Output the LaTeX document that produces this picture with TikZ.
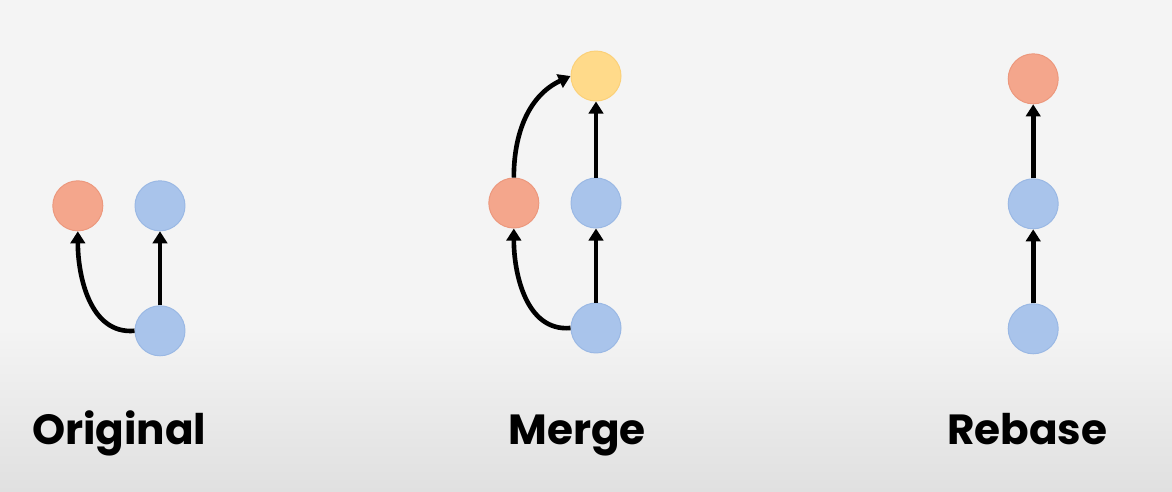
\documentclass[tikz,border=0pt]{standalone}
\usepackage{fontspec}
\setmainfont{Poppins}
\usetikzlibrary{arrows.meta,positioning}
\definecolor{CommitBlue}{HTML}{A9C4EB}
\definecolor{CommitBlueEdge}{HTML}{9AB8E4}
\definecolor{CommitOrange}{HTML}{F4A68C}
\definecolor{CommitOrangeEdge}{HTML}{EC987D}
\definecolor{CommitYellow}{HTML}{FFDA8A}
\definecolor{CommitYellowEdge}{HTML}{FBD078}
\definecolor{BackTop}{HTML}{F4F4F4}
\definecolor{BackBottom}{HTML}{E0E0E0}

\begin{document}
\begin{tikzpicture}[
  node distance=1.85cm and 0.78cm,
  commit/.style={circle,minimum size=1.25cm,inner sep=0pt,line width=0.7pt},
  blue/.style={commit,draw=CommitBlueEdge,fill=CommitBlue},
  orange/.style={commit,draw=CommitOrangeEdge,fill=CommitOrange},
  yellow/.style={commit,draw=CommitYellowEdge,fill=CommitYellow},
  arrow/.style={-{Triangle[length=3mm,width=3.6mm]},line width=3.3pt,black},
  caption/.style={anchor=base,font=\bfseries\fontsize{30}{36}\selectfont}
]
% background
\fill[BackTop] (0,0) rectangle (29.3,12.3);
\shade[top color=BackTop,bottom color=BackBottom] (0,0) rectangle (29.3,4.1);
\useasboundingbox (0,0) rectangle (29.3,12.3);
% original
\node[blue] (orig1) at (4.0,4.03) {};
\node[blue,above=of orig1] (orig2) {};
\node[orange,left=of orig2] (origf) {};
\draw[arrow] (orig1)--(orig2);
\draw[arrow] (orig1.west) to[out=185,in=-90] (origf.south);
\node[caption] (origlabel) at (2.98,1.18) {Original};
% merge
\node[blue] (merge1) at (14.9,4.1) {};
\node[blue,above=of merge1] (merge2) {};
\node[orange,left=of merge2] (mergef) {};
\node[yellow,above=1.9cm of merge2] (mergem) {};
\draw[arrow] (merge1)--(merge2);
\draw[arrow] (merge2)--(mergem);
\draw[arrow] (merge1.west) to[out=185,in=-90] (mergef.south);
\draw[arrow] (mergef.north) to[out=90,in=205] (mergem.west);
\node[caption] (mergelabel) at (14.43,1.18) {Merge};
% rebase
\node[blue] (rebase1) at (25.83,4.08) {};
\node[blue,above=of rebase1] (rebase2) {};
\node[orange,above=of rebase2] (rebasef) {};
\draw[arrow] (rebase1)--(rebase2);
\draw[arrow] (rebase2)--(rebasef);
\node[caption] (rebaselabel) at (25.68,1.18) {Rebase};
\end{tikzpicture}
\end{document}
